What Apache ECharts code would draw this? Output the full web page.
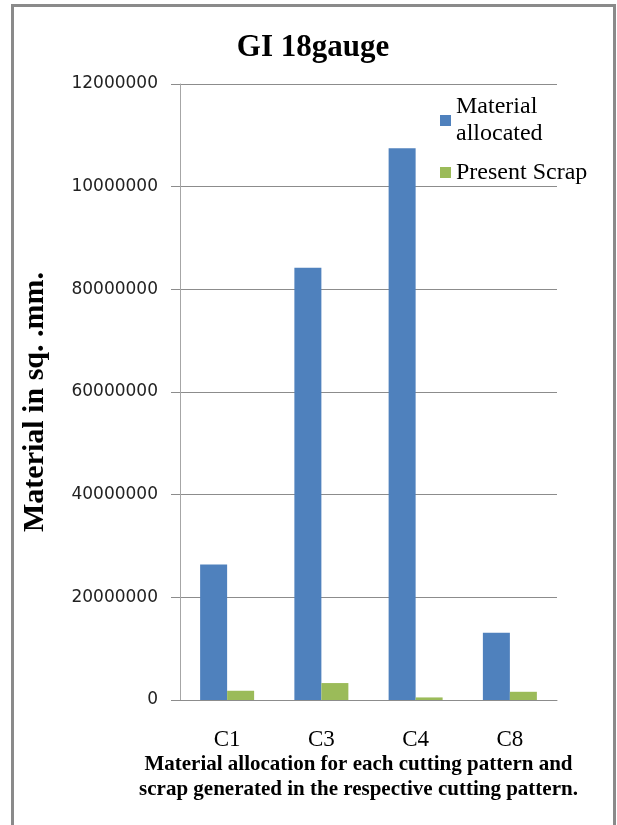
<!DOCTYPE html>
<html>
<head>
<meta charset="utf-8">
<script src="https://cdn.jsdelivr.net/npm/echarts@6/dist/echarts.min.js"></script>
<style>
html, body { margin: 0; padding: 0; background: #fff; }
#chart { width: 617px; height: 825px; }
</style>
</head>
<body>
<div id="chart"></div>
<script>
// data
const categories = ['C1', 'C3', 'C4', 'C8']
const materialAllocated = [26400000, 84200000, 107500000, 13100000]
const presentScrap = [1800000, 3300000, 500000, 1600000]
// the tick labels as printed (the two top ones are cut short in the original)
const tickLabels = ['0', '20000000', '40000000', '60000000', '80000000', '10000000', '12000000']

const serif = '"Liberation Serif", "Times New Roman", serif'

let myChart = echarts.init(document.getElementById('chart'))
let option = {
    backgroundColor: '#FFFFFF',
    animation: false,
    title: {
        text: 'GI 18gauge',
        left: 308,
        top: 27,
        textAlign: 'center',
        textStyle: {
            fontFamily: serif,
            fontWeight: 'bold',
            fontSize: 31,
            color: '#000'
        }
    },
    legend: {
        orient: 'vertical',
        left: 440,
        top: 80,
        padding: 0,
        itemWidth: 11,
        itemHeight: 11,
        itemGap: -2,
        icon: 'rect',
        formatter: function (name) {
            return name === 'Material allocated' ? 'Material\nallocated' : name
        },
        textStyle: {
            fontFamily: serif,
            fontSize: 24,
            lineHeight: 27,
            color: '#000'
        },
        data: [{
            name: 'Material allocated',
            textStyle: { padding: [27, 0, 0, 0] }
        }, {
            name: 'Present Scrap'
        }]
    },
    grid: {
        left: 180,
        right: 60,
        top: 84,
        bottom: 125,
        containLabel: false
    },
    xAxis: {
        type: 'category',
        data: categories,
        name: 'Material allocation for each cutting pattern and\nscrap generated in the respective cutting pattern.',
        nameLocation: 'middle',
        nameGap: 52,
        nameMoveOverlap: false,
        nameTextStyle: {
            fontFamily: serif,
            fontWeight: 'bold',
            fontSize: 21,
            lineHeight: 25,
            color: '#000',
            padding: [0, 20, 0, 0]
        },
        axisLine: {
            lineStyle: { color: '#8c8c8c', width: 1 }
        },
        axisTick: { show: false },
        axisLabel: {
            margin: 28,
            fontFamily: serif,
            fontSize: 23,
            color: '#000'
        }
    },
    yAxis: {
        type: 'value',
        min: 0,
        max: 120000000,
        interval: 20000000,
        name: 'Material in sq. .mm.',
        nameLocation: 'middle',
        nameGap: 130,
        nameMoveOverlap: false,
        nameTextStyle: {
            fontFamily: serif,
            fontWeight: 'bold',
            fontSize: 30,
            color: '#000',
            padding: [0, 20, 0, 0]
        },
        axisLine: {
            show: true,
            lineStyle: { color: '#a6a6a6', width: 1 }
        },
        axisTick: {
            show: true,
            length: 9,
            lineStyle: { color: '#8c8c8c' }
        },
        splitLine: {
            lineStyle: { color: '#8c8c8c', width: 1 }
        },
        axisLabel: {
            margin: 22,
            fontFamily: '"DejaVu Sans", sans-serif',
            fontSize: 17,
            color: '#222',
            formatter: function (val) {
                return tickLabels[Math.round(val / 20000000)]
            }
        }
    },
    series: [
        {
            name: 'Material allocated',
            type: 'bar',
            data: materialAllocated,
            barWidth: 27,
            barGap: '0%',
            itemStyle: { color: '#4F81BD' }
        },
        {
            name: 'Present Scrap',
            type: 'bar',
            data: presentScrap,
            barWidth: 27,
            barGap: '0%',
            itemStyle: { color: '#9BBB59' }
        }
    ],
    graphic: [{
        type: 'rect',
        left: 10,
        top: 3,
        shape: { width: 602, height: 830 },
        style: { fill: null, stroke: '#8a8a8a', lineWidth: 3 },
        silent: true
    }]
}
myChart.setOption(option)
window.addEventListener('resize', function () {
    myChart.resize()
})
</script>
</body>
</html>
